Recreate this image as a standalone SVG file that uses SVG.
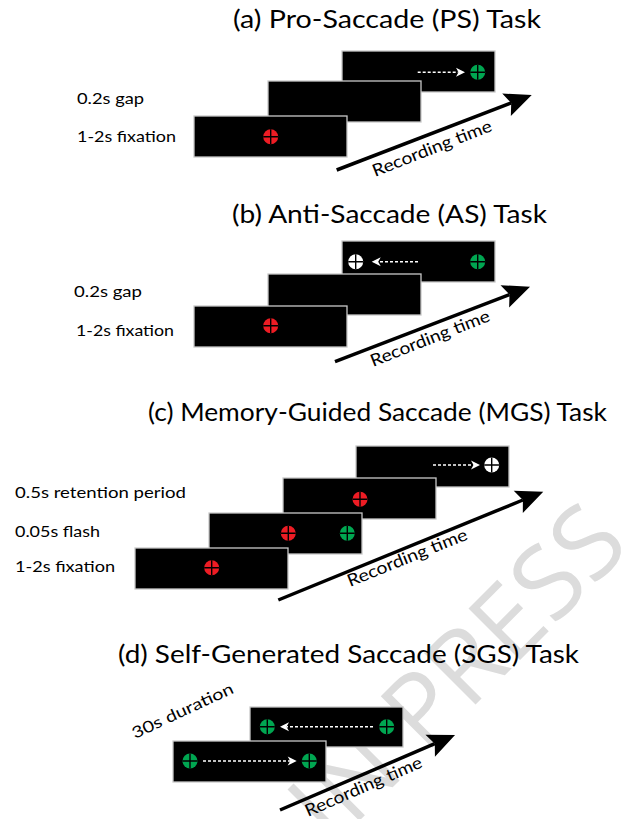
<svg xmlns="http://www.w3.org/2000/svg" width="635" height="819" viewBox="0 0 635 819">
<style>
.scr{fill:#000;stroke:#c8c8c8;stroke-width:1.3}
.t{font-family:Lato,"Open Sans","Liberation Sans",sans-serif;fill:#000}
.title{font-size:25px}
.lbl{font-size:16px}
.rt{font-size:17px}
.tl{stroke:#000;stroke-width:3.5;fill:none;marker-end:url(#bk)}
.da{stroke:#fff;stroke-width:1.5;stroke-dasharray:3 2;fill:none;marker-end:url(#wh)}
.wm{font-family:"Open Sans","Liberation Sans",sans-serif;font-size:102px;fill:#dcdcdc}
.red{fill:#ed1c24}.grn{fill:#00a651}.wht{fill:#fff}
</style>
<defs>
<g id="fx"><circle r="7.5"/><path d="M-7.5,0H7.5M0,-7.5V7.5" stroke="#000" stroke-width="1.4"/></g>
<marker id="bk" markerUnits="userSpaceOnUse" markerWidth="40" markerHeight="40" refX="5" refY="0" orient="auto" overflow="visible"><path d="M0,-12L27,0L0,12L5,0Z" fill="#000"/></marker>
<marker id="wh" markerUnits="userSpaceOnUse" markerWidth="20" markerHeight="20" refX="2.5" refY="0" orient="auto" overflow="visible"><path d="M0,-4.5L9,0L0,4.5L2.5,0Z" fill="#fff"/></marker>
</defs>

<text class="wm" transform="translate(332,848) rotate(-45)">IN PRESS</text>

<!-- (a) -->
<g id="panel-a">
<text class="t title" x="233" y="28" textLength="308" lengthAdjust="spacingAndGlyphs">(a) Pro-Saccade (PS) Task</text>
<text class="t lbl" x="77" y="104" textLength="67" lengthAdjust="spacingAndGlyphs">0.2s gap</text>
<text class="t lbl" x="77" y="142" textLength="99" lengthAdjust="spacingAndGlyphs">1-2s fixation</text>
<g id="a-target"><rect class="scr" x="342" y="51" width="153" height="41"/><use href="#fx" x="477.7" y="72.3" class="grn"/></g>
<g id="a-gap"><rect class="scr" x="268" y="81" width="153" height="41"/></g>
<g id="a-fix"><rect class="scr" x="194" y="116" width="153" height="41"/><use href="#fx" x="270.7" y="136.7" class="red"/></g>
<g id="a-connectors">
<path class="da" d="M417.7,72.3H458.5"/>
<path class="tl" d="M336.7,170L511.2,102.9"/>
<text class="t rt" transform="translate(375,177) rotate(-21.5)" textLength="127" lengthAdjust="spacingAndGlyphs">Recording time</text>
</g>
</g>

<!-- (b) -->
<g id="panel-b">
<text class="t title" x="232" y="223" textLength="315" lengthAdjust="spacingAndGlyphs">(b) Anti-Saccade (AS) Task</text>
<text class="t lbl" x="74" y="297" textLength="68" lengthAdjust="spacingAndGlyphs">0.2s gap</text>
<text class="t lbl" x="76" y="336" textLength="98" lengthAdjust="spacingAndGlyphs">1-2s fixation</text>
<g id="b-target"><rect class="scr" x="342" y="241" width="153" height="41"/><use href="#fx" x="355.7" y="261.7" class="wht"/><use href="#fx" x="477.7" y="261.7" class="grn"/></g>
<g id="b-gap"><rect class="scr" x="268" y="274" width="153" height="41"/></g>
<g id="b-fix"><rect class="scr" x="194" y="306" width="153" height="41"/><use href="#fx" x="270.7" y="325.7" class="red"/></g>
<g id="b-connectors">
<path class="da" d="M418,261.7H378.2"/>
<path class="tl" d="M335,361.7L509.5,294.6"/>
<text class="t rt" transform="translate(373,367) rotate(-21.5)" textLength="127" lengthAdjust="spacingAndGlyphs">Recording time</text>
</g>
</g>

<!-- (c) -->
<g id="panel-c">
<text class="t title" x="148" y="421" textLength="459" lengthAdjust="spacingAndGlyphs">(c) Memory-Guided Saccade (MGS) Task</text>
<text class="t lbl" x="15" y="498" textLength="171" lengthAdjust="spacingAndGlyphs">0.5s retention period</text>
<text class="t lbl" x="15" y="537" textLength="85" lengthAdjust="spacingAndGlyphs">0.05s flash</text>
<text class="t lbl" x="15" y="572" textLength="100" lengthAdjust="spacingAndGlyphs">1-2s fixation</text>
<g id="c-target"><rect class="scr" x="356" y="446" width="153" height="41"/><use href="#fx" x="491.7" y="465" class="wht"/></g>
<g id="c-retention"><rect class="scr" x="283" y="478" width="153" height="41"/><use href="#fx" x="360" y="499.3" class="red"/></g>
<g id="c-flash"><rect class="scr" x="209" y="513" width="153" height="41"/><use href="#fx" x="288.3" y="533.3" class="red"/><use href="#fx" x="347.3" y="533.3" class="grn"/></g>
<g id="c-fix"><rect class="scr" x="135" y="548" width="153" height="41"/><use href="#fx" x="211.7" y="567.7" class="red"/></g>
<g id="c-connectors">
<path class="da" d="M433,465H473.5"/>
<path class="tl" d="M278.3,600L522.9,500"/>
<text class="t rt" transform="translate(350,587) rotate(-22)" textLength="128" lengthAdjust="spacingAndGlyphs">Recording time</text>
</g>
</g>

<!-- (d) -->
<g id="panel-d">
<text class="t title" x="118" y="663" textLength="461" lengthAdjust="spacingAndGlyphs">(d) Self-Generated Saccade (SGS) Task</text>
<text class="t lbl" transform="translate(135,739) rotate(-25)" textLength="110" lengthAdjust="spacingAndGlyphs">30s duration</text>
<g id="d-back"><rect class="scr" x="250" y="707" width="153" height="40"/><use href="#fx" x="267.3" y="726.7" class="grn"/><use href="#fx" x="386.7" y="726.7" class="grn"/></g>
<g id="d-front"><rect class="scr" x="173" y="741" width="153" height="41"/><use href="#fx" x="190" y="761" class="grn"/><use href="#fx" x="309.3" y="761" class="grn"/></g>
<g id="d-connectors">
<path class="da" d="M373,726.7H286.5"/>
<path class="da" d="M203,761H290.2"/>
<path class="tl" d="M280,810L434.8,743.7"/>
<text class="t rt" transform="translate(308,817) rotate(-23.5)" textLength="126" lengthAdjust="spacingAndGlyphs">Recording time</text>
</g>
</g>
</svg>
